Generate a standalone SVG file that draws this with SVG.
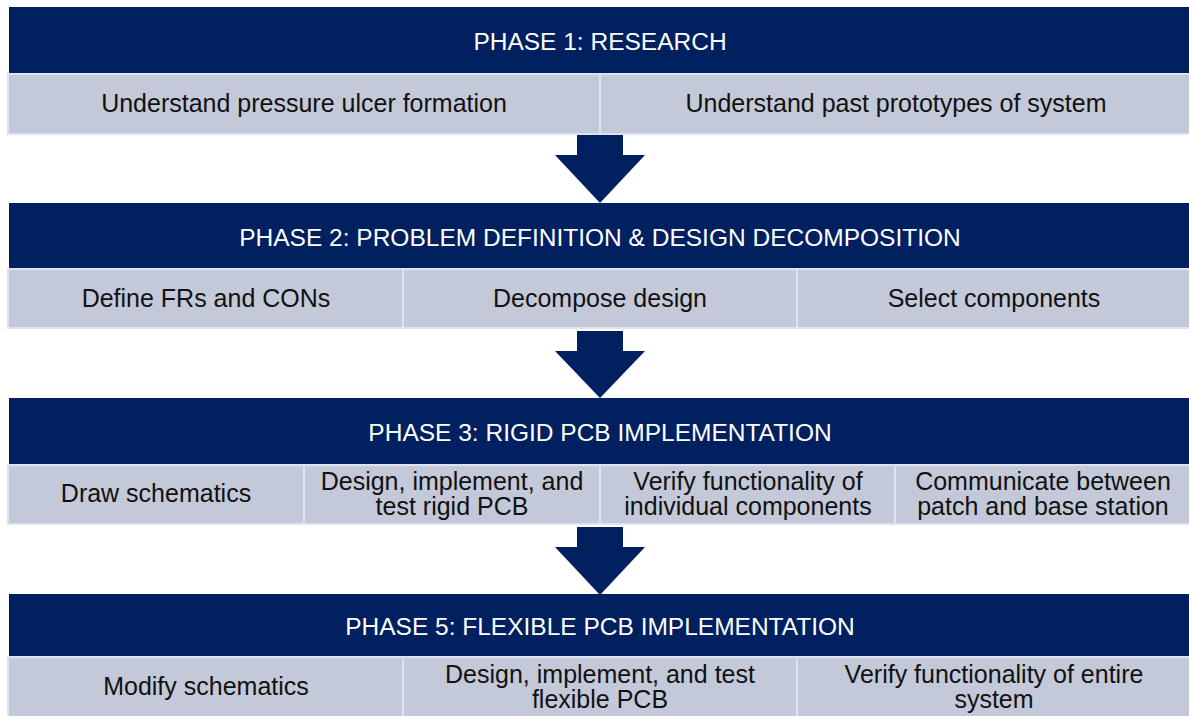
<svg xmlns="http://www.w3.org/2000/svg" width="1189" height="716" viewBox="0 0 1189 716">
<style>
.hdr{fill:#002060;}
.cell{fill:#C3C9D8;stroke:#DCE4F2;stroke-width:2;}
.ht{font-family:"Liberation Sans",Arial,sans-serif;font-size:24.5px;fill:#FFFFFF;text-anchor:middle;}
.ct{font-family:"Liberation Sans",Arial,sans-serif;font-size:25px;fill:#111111;text-anchor:middle;}
.arr{fill:#002060;}
</style>
<rect width="1189" height="716" fill="#FFFFFF"/>
<g id="connectors">
<path class="arr" d="M577,135 H623 V155 H645 L600,203 L555,155 H577 Z"/>
<path class="arr" d="M577,331 H623 V351 H645 L600,398 L555,351 H577 Z"/>
<path class="arr" d="M577,527 H623 V547 H645 L600,595 L555,547 H577 Z"/>
</g>
<g id="phase1">
<rect class="hdr" x="9" y="7" width="1182" height="67"/>
<text class="ht" x="600" y="49.5">PHASE 1: RESEARCH</text>
<g id="p1c1"><rect class="cell" x="8" y="74" width="592" height="60"/><text class="ct" x="304" y="112">Understand pressure ulcer formation</text></g>
<g id="p1c2"><rect class="cell" x="600" y="74" width="592" height="60"/><text class="ct" x="896" y="112">Understand past prototypes of system</text></g>
</g>
<g id="phase2">
<rect class="hdr" x="9" y="203" width="1182" height="66"/>
<text class="ht" x="600" y="245.5">PHASE 2: PROBLEM DEFINITION &amp; DESIGN DECOMPOSITION</text>
<g id="p2c1"><rect class="cell" x="8" y="269" width="395" height="59"/><text class="ct" x="206" y="307">Define FRs and CONs</text></g>
<g id="p2c2"><rect class="cell" x="403" y="269" width="394" height="59"/><text class="ct" x="600" y="307">Decompose design</text></g>
<g id="p2c3"><rect class="cell" x="797" y="269" width="395" height="59"/><text class="ct" x="994" y="307">Select components</text></g>
</g>
<g id="phase3">
<rect class="hdr" x="9" y="398" width="1182" height="67"/>
<text class="ht" x="600" y="441">PHASE 3: RIGID PCB IMPLEMENTATION</text>
<g id="p3c1"><rect class="cell" x="8" y="465" width="296" height="59"/><text class="ct" x="156" y="502">Draw schematics</text></g>
<g id="p3c2"><rect class="cell" x="304" y="465" width="296" height="59"/><text class="ct" x="452" y="490">Design, implement, and<tspan x="452" dy="25">test rigid PCB</tspan></text></g>
<g id="p3c3"><rect class="cell" x="600" y="465" width="295" height="59"/><text class="ct" x="748" y="490">Verify functionality of<tspan x="748" dy="25">individual components</tspan></text></g>
<g id="p3c4"><rect class="cell" x="895" y="465" width="296" height="59"/><text class="ct" x="1043" y="490">Communicate between<tspan x="1043" dy="25">patch and base station</tspan></text></g>
</g>
<g id="phase5">
<rect class="hdr" x="9" y="594" width="1182" height="63"/>
<text class="ht" x="600" y="635">PHASE 5: FLEXIBLE PCB IMPLEMENTATION</text>
<g id="p5c1"><rect class="cell" x="8" y="657" width="395" height="62"/><text class="ct" x="206" y="695">Modify schematics</text></g>
<g id="p5c2"><rect class="cell" x="403" y="657" width="394" height="62"/><text class="ct" x="600" y="683">Design, implement, and test<tspan x="600" dy="25">flexible PCB</tspan></text></g>
<g id="p5c3"><rect class="cell" x="797" y="657" width="395" height="62"/><text class="ct" x="994" y="683">Verify functionality of entire<tspan x="994" dy="25">system</tspan></text></g>
</g>
</svg>
